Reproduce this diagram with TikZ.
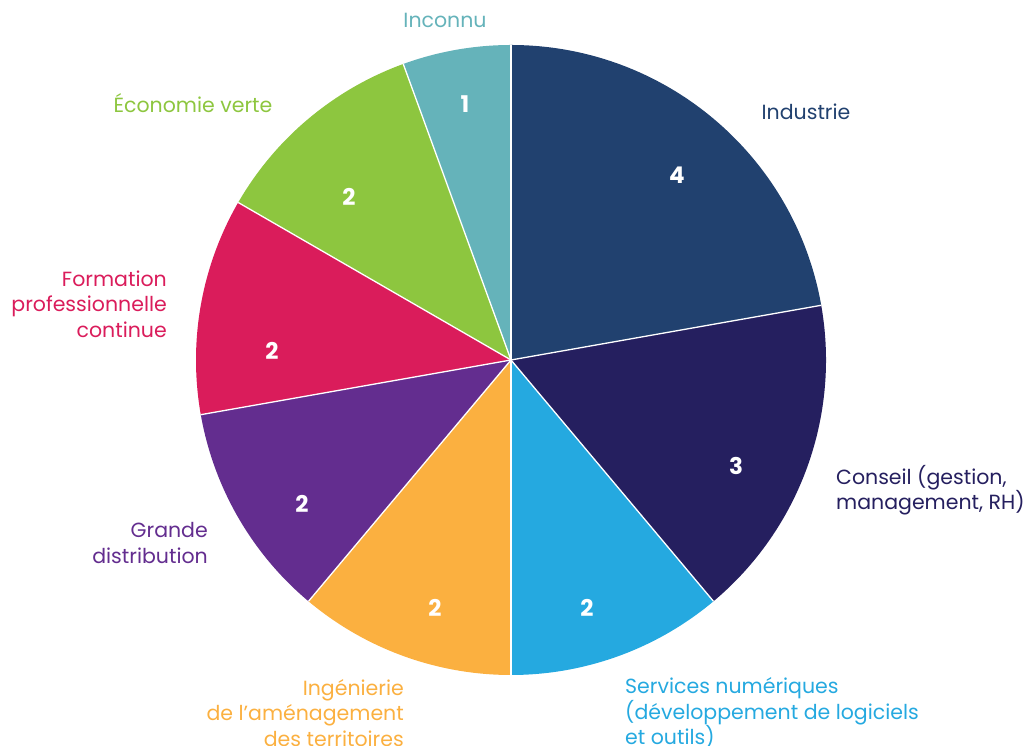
\documentclass[tikz,border=0pt]{standalone}
\usepackage{fontspec}
\setmainfont{Poppins}
\begin{document}
\begin{tikzpicture}[x=1pt,y=1pt,
  lbl/.style={inner sep=0pt,font=\fontsize{20.5}{25.5}\selectfont},
  num/.style={inner sep=0pt,text=white,font=\fontsize{23}{26}\selectfont\bfseries},
  sep/.style={draw=white,line width=1.3pt}]
\definecolor{cInd}{HTML}{21416F}
\definecolor{cCons}{HTML}{251F5F}
\definecolor{cServ}{HTML}{25A9E0}
\definecolor{cIng}{HTML}{FBB040}
\definecolor{cGrande}{HTML}{632D8F}
\definecolor{cForm}{HTML}{DA1C5B}
\definecolor{cEco}{HTML}{8DC63F}
\definecolor{cInc}{HTML}{65B3BA}
\useasboundingbox (0,0) rectangle (1030,746);
\coordinate (C) at (511,386);
\def\R{315}
\fill[cInd] (C) -- ++(10:\R) arc[start angle=10,end angle=90,radius=\R] -- cycle;
\fill[cCons] (C) -- ++(-50:\R) arc[start angle=-50,end angle=10,radius=\R] -- cycle;
\fill[cServ] (C) -- ++(-90:\R) arc[start angle=-90,end angle=-50,radius=\R] -- cycle;
\fill[cIng] (C) -- ++(-130:\R) arc[start angle=-130,end angle=-90,radius=\R] -- cycle;
\fill[cGrande] (C) -- ++(-170:\R) arc[start angle=-170,end angle=-130,radius=\R] -- cycle;
\fill[cForm] (C) -- ++(150:\R) arc[start angle=150,end angle=190,radius=\R] -- cycle;
\fill[cEco] (C) -- ++(110:\R) arc[start angle=110,end angle=150,radius=\R] -- cycle;
\fill[cInc] (C) -- ++(90:\R) arc[start angle=90,end angle=110,radius=\R] -- cycle;
\foreach \a in {10,-50,-90,-130,-170,150,110,90}
  \draw[sep] (C) -- ++(\a:\R);
% numbers
\node[num] (n1) at (465,642) {1};
\node[num] (n4) at (677,571) {4};
\node[num] (nEco) at (349,549) {2};
\node[num] (nForm) at (272,395) {2};
\node[num] (n3) at (736,280) {3};
\node[num] (nGr) at (302,242) {2};
\node[num] (nIng) at (435,138) {2};
\node[num] (nServ) at (587,138) {2};
% labels
\node[lbl,text=cInc] (lInc) at (445,726) {Inconnu};
\node[lbl,text=cEco] (lEco) at (193,643) {Économie verte};
\node[lbl,text=cInd] (lInd) at (806,634) {Industrie};
\node[lbl,text=cForm,anchor=east,align=right] (lForm) at (167,442) {Formation\\professionnelle\\continue};
\node[lbl,text=cGrande,anchor=east,align=right] (lGr) at (208,203) {Grande\\distribution};
\node[lbl,text=cIng,anchor=east,align=right] (lIng) at (404,33) {Ingénierie\\de l’aménagement\\des territoires};
\node[lbl,text=cServ,anchor=west,align=left] (lServ) at (625,33) {Services numériques\\(développement de logiciels\\et outils)};
\node[lbl,text=cCons,anchor=west,align=left] (lCons) at (836,256) {Conseil (gestion,\\management, RH)};
\end{tikzpicture}
\end{document}
